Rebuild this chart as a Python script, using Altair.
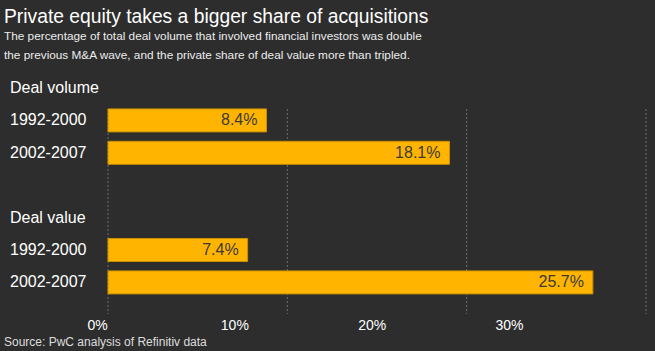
import altair as alt
import pandas as pd

# ---- data ----
title = "Private equity takes a bigger share of acquisitions"
subtitle = [
    "The percentage of total deal volume that involved financial investors was double",
    "the previous M&A wave, and the private share of deal value more than tripled.",
]
source = "Source: PwC analysis of Refinitiv data"

groups = ["Deal volume", "Deal value"]
periods = ["1992-2000", "2002-2007"]
volume_share = [8.4, 18.1]
value_share = [7.4, 25.7]
tick_values = [0, 10, 20, 30]
tick_labels = ["0%", "10%", "20%", "30%"]

# ---- tables built from the lists ----
rows = []
bar_recs, left_recs = [], []
for gi, (g, vals) in enumerate(zip(groups, [volume_share, value_share])):
    if gi > 0:
        rows.append("gap")
    rows.append(g)
    left_recs.append({"row": g, "text": g})
    for p, v in zip(periods, vals):
        key = f"{g}|{p}"
        rows.append(key)
        left_recs.append({"row": key, "text": p})
        bar_recs.append({"row": key, "share": v, "label": f"{v}%"})

bars_df = pd.DataFrame(bar_recs)
left_df = pd.DataFrame(left_recs)
grid_df = pd.DataFrame({"value": tick_values})
tick_df = pd.DataFrame({"value": tick_values, "label": tick_labels})
source_df = pd.DataFrame({"text": [source]})

FONT = "Liberation Sans"
TOP = 68

y_scale = alt.Scale(domain=rows, range=[3.8, 230.6], paddingInner=0.29, paddingOuter=0.145)
bar_scale = alt.Scale(domain=[0, 30], range=[108, 674])
grid_scale = alt.Scale(domain=[0, 30], range=[108, 646])
tick_scale = alt.Scale(domain=[0, 30], range=[97.5, 509.5])

Y = alt.Y("row:N", scale=y_scale, axis=None, sort=rows)

grid = alt.Chart(grid_df).mark_rule(color="#6e6e6e", strokeDash=[2, 2], strokeWidth=1).encode(
    x=alt.X("value:Q", scale=grid_scale, axis=None),
    y=alt.value(41),
    y2=alt.value(246),
)

bars = alt.Chart(bars_df).mark_bar(color="#FFB400", stroke="#C98F00", strokeWidth=1).encode(
    x=alt.X("share:Q", scale=bar_scale, axis=None),
    y=Y,
)

bar_labels = alt.Chart(bars_df).mark_text(
    align="right", baseline="middle", dx=-9, fontSize=16, font=FONT, color="#3a3a3a"
).encode(
    x=alt.X("share:Q", scale=bar_scale, axis=None),
    y=Y,
    text="label:N",
)

left_labels = alt.Chart(left_df).mark_text(
    align="left", baseline="middle", fontSize=16, font=FONT, color="#ffffff"
).encode(
    x=alt.value(10),
    y=Y,
    text="text:N",
)

ticks = alt.Chart(tick_df).mark_text(
    align="center", baseline="alphabetic", fontSize=14, font=FONT, color="#ffffff"
).encode(
    x=alt.X("value:Q", scale=tick_scale, axis=None),
    y=alt.value(330 - TOP),
    text="label:N",
)

src = alt.Chart(source_df).mark_text(
    align="left", baseline="alphabetic", fontSize=12, font=FONT, color="#dddddd"
).encode(
    x=alt.value(4),
    y=alt.value(346 - TOP),
    text="text:N",
)

chart = (
    alt.layer(grid, bars, bar_labels, left_labels, ticks, src)
    .resolve_scale(x="independent")
    .properties(
        width=655,
        height=351 - TOP,
        autosize=alt.AutoSizeParams(type="none"),
        padding={"left": 0, "top": TOP, "right": 0, "bottom": 0},
        title=alt.TitleParams(
            text=title,
            subtitle=subtitle,
            anchor="start",
            frame="group",
            dx=4,
            offset=6,
            font=FONT,
            fontSize=19.3,
            fontWeight="normal",
            color="#ffffff",
            subtitleFont=FONT,
            subtitleFontSize=11.8,
            subtitleColor="#ececec",
            subtitleLineHeight=19,
            subtitlePadding=4,
        ),
    )
    .configure(background="#2d2d2d")
    .configure_view(stroke=None)
)

chart.save("out.html", embed_options={"renderer": "svg", "actions": False})
